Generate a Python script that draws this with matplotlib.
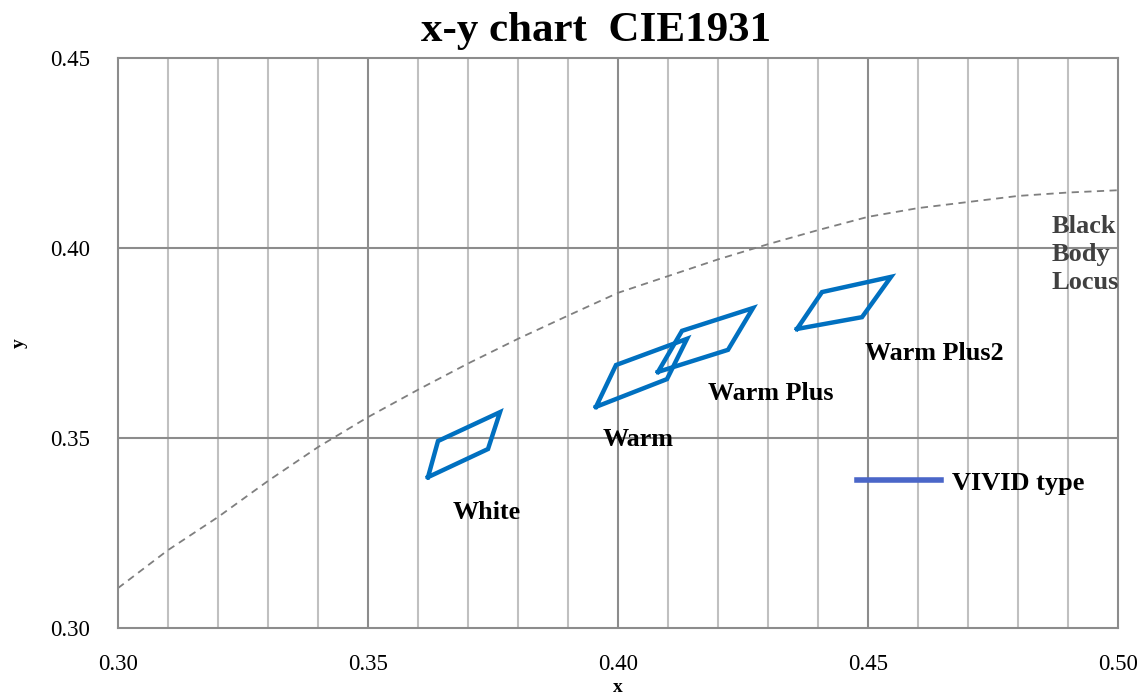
import matplotlib.pyplot as plt
from matplotlib.lines import Line2D
import numpy as np

# black body locus
locus_x = [0.30, 0.31, 0.32, 0.33, 0.34, 0.35, 0.36, 0.37, 0.38, 0.39, 0.40,
           0.41, 0.42, 0.43, 0.44, 0.45, 0.46, 0.47, 0.48, 0.49, 0.50]
locus_y = [0.3105, 0.3205, 0.3292, 0.3387, 0.3476, 0.3555, 0.3627, 0.3696, 0.3761, 0.3822, 0.3882,
           0.3926, 0.3970, 0.4010, 0.4047, 0.4082, 0.4105, 0.4121, 0.4137, 0.4146, 0.4152]

# color bins (4 corners each)
white_x = [0.3620, 0.3640, 0.3764, 0.3740]
white_y = [0.3397, 0.3492, 0.3568, 0.3471]
warm_x = [0.3956, 0.3996, 0.4138, 0.4098]
warm_y = [0.3582, 0.3692, 0.3761, 0.3655]
warmplus_x = [0.4080, 0.4128, 0.4270, 0.4220]
warmplus_y = [0.3674, 0.3782, 0.3842, 0.3732]
warmplus2_x = [0.4358, 0.4408, 0.4546, 0.4488]
warmplus2_y = [0.3787, 0.3884, 0.3924, 0.3818]

bins = [(white_x, white_y), (warm_x, warm_y), (warmplus_x, warmplus_y), (warmplus2_x, warmplus2_y)]

labels = ['White', 'Warm', 'Warm Plus', 'Warm Plus2']
label_x = [0.3738, 0.4040, 0.4306, 0.4632]
label_y = [0.3305, 0.3495, 0.3616, 0.3723]

plt.rcParams['font.family'] = ['Liberation Serif', 'DejaVu Serif']

fig = plt.figure(figsize=(11.43, 6.94), dpi=100)
ax = fig.add_axes([118/1143, 1-628/694, 1000/1143, 570/694])

ax.set_xlim(0.30, 0.50)
ax.set_ylim(0.30, 0.45)

# grid
for gx in np.arange(0.31, 0.50, 0.01):
    if abs(gx/0.05 - round(gx/0.05)) < 1e-6:
        ax.axvline(gx, color='#8c8c8c', lw=1.5, zorder=0)
    else:
        ax.axvline(gx, color='#c0c0c0', lw=1.5, zorder=0)
for gy in [0.35, 0.40]:
    ax.axhline(gy, color='#8c8c8c', lw=1.5, zorder=0)

for s in ax.spines.values():
    s.set_color('#8c8c8c')
    s.set_linewidth(1.5)

ax.plot(locus_x, locus_y, color='#7f7f7f', lw=1.3, ls=(0, (4, 3)), zorder=2)

for bx, by in bins:
    ax.plot(bx + [bx[0]], by + [by[0]], color='#0070c0', lw=3.2, solid_joinstyle='miter', zorder=3)

for t, lx, ly in zip(labels, label_x, label_y):
    ax.text(lx, ly, t, fontsize=18.8, fontweight='bold', ha='center', va='center')

ax.text(0.4868, 0.4088, 'Black\nBody\nLocus', fontsize=19, fontweight='bold', color='#404040',
        ha='left', va='top', linespacing=1.3)

ax.set_xticks([0.30, 0.35, 0.40, 0.45, 0.50])
ax.set_yticks([0.30, 0.35, 0.40, 0.45])
ax.set_xticklabels(['0.30', '0.35', '0.40', '0.45', '0.50'])
ax.set_yticklabels(['0.30', '0.35', '0.40', '0.45'])
ax.tick_params(axis='x', length=0, pad=18.5, labelsize=16.5)
ax.tick_params(axis='y', length=0, pad=20, labelsize=16.5)

ax.set_xlabel('x', fontsize=14, fontweight='bold', labelpad=3)
ax.set_ylabel('y', fontsize=14, fontweight='bold', labelpad=16)

h = Line2D([], [], color='#4a66c8', lw=4)
ax.legend(handles=[h], labels=['VIVID type'], loc='center left', bbox_to_anchor=(0.739, 0.2544),
          frameon=False, handlelength=3.2, handletextpad=0.4, borderpad=0,
          borderaxespad=0, prop={'weight': 'bold', 'size': 19})

fig.text(596/1143, 1-41/694, 'x-y chart  CIE1931', fontsize=31, fontweight='bold', ha='center', va='baseline')

fig.savefig('out.png', dpi=100)
